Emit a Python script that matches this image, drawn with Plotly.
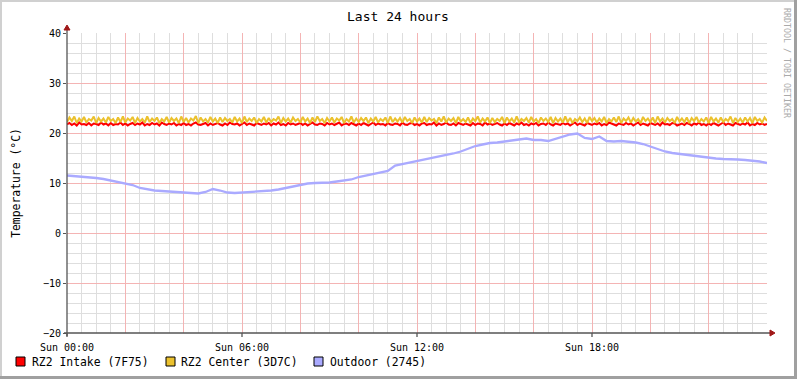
import plotly.graph_objects as go

# ---------------- data ----------------
series_names = ["RZ2 Intake (7F75)", "RZ2 Center (3D7C)", "Outdoor (2745)"]
series_colors = ["#FF0000", "#EBC12E", "#AAAAFF"]

# RZ2 sensors sampled every 5 minutes (hours 0..24)
rz2_step_h = 5 / 60
intake = [
    21.7, 22.0, 21.6, 21.9, 21.5, 22.1, 21.7, 21.8, 21.6, 22.0, 21.5, 21.9,
    21.8, 21.6, 22.1, 21.7, 21.9, 21.5, 22.0, 21.6, 21.8, 21.7, 22.1, 21.6,
    21.9, 21.5, 21.8, 22.0, 21.6, 21.9, 21.7, 22.1, 21.5, 21.8, 21.6, 22.0,
    21.7, 21.9, 21.5, 22.1, 21.8, 21.6, 21.9, 21.7, 22.0, 21.5, 21.8, 21.6,
    22.0, 21.6, 21.8, 21.5, 21.9, 22.1, 21.7, 21.6, 21.8, 22.0, 21.5, 21.9,
    21.6, 21.8, 22.0, 21.7, 21.5, 21.9, 21.6, 22.1, 21.8, 21.7, 21.9, 21.5,
    21.8, 22.1, 21.6, 21.9, 21.7, 21.5, 22.0, 21.8, 21.6, 21.9, 21.7, 22.0,
    21.5, 21.9, 21.7, 22.1, 21.6, 21.8, 21.5, 22.0, 21.7, 21.9, 21.6, 21.8,
    22.0, 21.6, 21.9, 21.5, 21.8, 22.1, 21.7, 21.6, 21.9, 21.8, 21.5, 22.0,
    21.7, 21.9, 21.6, 21.8, 22.1, 21.5, 21.8, 21.9, 21.6, 22.0, 21.7, 21.5,
    21.9, 21.6, 22.0, 21.7, 21.5, 21.8, 22.1, 21.6, 21.9, 21.7, 21.8, 21.5,
    22.0, 21.7, 21.6, 21.9, 21.8, 21.5, 22.1, 21.7, 21.6, 21.9, 22.0, 21.6,
    21.8, 21.5, 21.9, 22.0, 21.6, 21.8, 21.7, 22.1, 21.5, 21.9, 21.6, 21.8,
    22.1, 21.7, 21.6, 21.9, 21.5, 22.0, 21.8, 21.6, 21.9, 21.7, 21.5, 22.0,
    21.6, 21.9, 21.8, 21.5, 22.1, 21.7, 21.9, 21.6, 21.8, 22.0, 21.7, 21.5,
    21.9, 21.6, 22.0, 21.8, 21.5, 21.9, 21.7, 22.1, 21.6, 21.8, 21.5, 21.9,
    21.7, 22.0, 21.5, 21.8, 21.9, 21.6, 22.1, 21.7, 21.5, 21.9, 21.8, 21.6,
    22.0, 21.7, 21.9, 21.5, 21.8, 22.1, 21.6, 21.9, 21.7, 21.5, 22.0, 21.8,
    21.6, 21.9, 21.7, 22.0, 21.5, 21.8, 21.6, 22.1, 21.9, 21.7, 21.5, 21.9,
    21.8, 21.6, 22.0, 21.7, 21.9, 21.5, 21.8, 22.1, 21.6, 21.9, 21.7, 21.5,
    22.0, 21.8, 21.6, 21.9, 21.5, 22.1, 21.7, 21.8, 21.6, 22.0, 21.9, 21.5,
    21.7, 21.9, 21.6, 22.0, 21.8, 21.5, 21.9, 21.7, 22.1, 21.6, 21.8, 21.5,
    21.9, 21.6, 22.0, 21.7, 21.5, 21.8, 22.1, 21.6, 21.9, 21.7, 21.5, 22.0,
    21.8, 21.6, 21.9, 21.7, 22.1, 21.5, 21.8, 21.6, 22.0, 21.7, 21.9, 21.6,
    21.8,
]
center = [
    22.2, 23.1, 22.4, 23.3, 22.0, 22.9, 22.3, 23.2, 22.1, 22.8, 22.5, 23.3,
    22.0, 23.0, 22.3, 22.9, 22.1, 23.2, 22.4, 22.8, 22.0, 23.1, 22.2, 23.3,
    22.1, 22.9, 22.5, 23.2, 22.0, 23.0, 22.3, 22.8, 22.1, 23.3, 22.2, 22.9,
    22.4, 23.1, 22.0, 22.8, 22.3, 23.2, 22.1, 23.0, 22.4, 22.9, 22.0, 23.3,
    22.2, 23.0, 22.1, 22.9, 22.5, 23.4, 22.0, 23.1, 22.3, 22.8, 22.1, 23.2,
    22.3, 22.9, 22.0, 23.1, 22.2, 23.0, 22.4, 22.8, 22.1, 23.2, 22.3, 22.9,
    22.0, 23.3, 22.2, 22.9, 22.4, 23.1, 22.0, 22.8, 22.3, 23.2, 22.1, 23.0,
    22.2, 22.8, 22.5, 23.3, 22.0, 23.0, 22.3, 22.9, 22.1, 23.1, 22.4, 22.8,
    22.1, 23.2, 22.3, 22.9, 22.0, 23.1, 22.2, 23.3, 22.4, 22.8, 22.0, 23.0,
    22.3, 23.1, 22.1, 22.9, 22.5, 23.2, 22.0, 22.8, 22.3, 23.3, 22.1, 22.9,
    22.2, 23.0, 22.4, 23.1, 22.0, 22.9, 22.3, 23.2, 22.1, 22.8, 22.4, 23.1,
    22.0, 23.3, 22.2, 22.9, 22.3, 23.0, 22.1, 23.2, 22.4, 22.8, 22.0, 23.1,
    22.3, 22.9, 22.1, 23.2, 22.2, 23.0, 22.5, 22.8, 22.0, 23.1, 22.3, 23.3,
    22.1, 22.9, 22.4, 23.0, 22.0, 23.2, 22.3, 22.8, 22.2, 23.1, 22.0, 22.9,
    22.4, 23.3, 22.1, 22.9, 22.3, 23.1, 22.0, 23.0, 22.2, 22.8, 22.4, 23.2,
    22.0, 23.1, 22.3, 22.9, 22.1, 23.3, 22.2, 22.8, 22.4, 23.0, 22.1, 23.2,
    22.3, 22.8, 22.0, 23.1, 22.4, 22.9, 22.2, 23.2, 22.0, 23.0, 22.3, 22.9,
    22.1, 23.3, 22.2, 23.0, 22.0, 22.8, 22.4, 23.1, 22.2, 22.9, 22.0, 23.2,
    22.4, 23.0, 22.1, 22.9, 22.3, 23.2, 22.0, 22.8, 22.3, 23.1, 22.2, 23.3,
    22.0, 22.9, 22.4, 23.1, 22.1, 23.0, 22.3, 22.8, 22.0, 23.2, 22.4, 22.9,
    22.2, 23.1, 22.0, 23.3, 22.3, 22.9, 22.1, 23.0, 22.4, 22.8, 22.0, 23.2,
    22.3, 22.9, 22.2, 23.1, 22.0, 23.0, 22.4, 23.2, 22.1, 22.8, 22.3, 23.1,
    22.0, 23.2, 22.3, 22.9, 22.1, 23.1, 22.2, 22.8, 22.4, 23.3, 22.0, 23.0,
    22.2, 22.9, 22.1, 23.1, 22.3, 23.0, 22.0, 23.2, 22.4, 22.8, 22.1, 23.1,
    22.4,
]
# Outdoor sampled every 15 minutes
outdoor_step_h = 0.25
outdoor = [
    11.5, 11.4, 11.3, 11.1, 11.0, 10.8, 10.5, 10.2,
    10.0, 9.6, 9.0, 8.7, 8.5, 8.4, 8.3, 8.2,
    8.1, 8.0, 7.9, 8.2, 8.8, 8.5, 8.1, 8.0,
    8.1, 8.1, 8.2, 8.3, 8.5, 8.7, 9.0, 9.2,
    9.6, 9.9, 10.0, 10.0, 10.1, 10.3, 10.5, 10.7,
    11.2, 11.5, 11.7, 12.0, 12.4, 13.5, 13.8, 14.0,
    14.4, 14.7, 15.0, 15.2, 15.5, 15.9, 16.3, 16.8,
    17.4, 17.7, 18.0, 18.1, 18.3, 18.4, 18.7, 18.9,
    18.6, 18.6, 18.4, 18.8, 19.2, 19.7, 19.9, 19.0,
    18.8, 19.3, 18.4, 18.3, 18.4, 18.3, 18.1, 17.8,
    17.3, 16.8, 16.3, 16.0, 15.8, 15.6, 15.4, 15.2,
    15.0, 14.9, 14.8, 14.8, 14.7, 14.6, 14.5, 14.3,
    14.0,
]

x_tick_vals = [0, 2, 4, 6, 8, 10, 12, 14, 16, 18, 20, 22]
x_tick_text = ["Sun 00:00", "", "", "Sun 06:00", "", "", "Sun 12:00", "", "", "Sun 18:00", "", ""]
y_tick_vals = [-20, -10, 0, 10, 20, 30, 40]

title_text = "Last 24 hours"
y_title = "Temperature (°C)"
watermark = "RRDTOOL / TOBI OETIKER"

# ---------------- layout geometry ----------------
W, H = 797, 379
L, T, PW, PH = 67, 33, 700, 300
MONO = "DejaVu Sans Mono"


def px(x):
    return (x - L) / PW


def py(y):
    return (T + PH - y) / PH


fig = go.Figure()

series = [
    (intake, rz2_step_h, 2.0),
    (center, rz2_step_h, 2.0),
    (outdoor, outdoor_step_h, 2.3),
]
for (vals, step, lw), name, col in zip(series, series_names, series_colors):
    xs = [i * step for i in range(len(vals))]
    fig.add_trace(go.Scatter(
        x=xs, y=vals, mode="lines", name=name,
        line=dict(color=col, width=lw), showlegend=False,
        hoverinfo="skip",
    ))

grid_red = "#F4B4B4"
grid_grey = "#DEDEDE"
axis_col = "#555555"
arrow_col = "#A01818"

fig.update_layout(
    width=W, height=H,
    margin=dict(l=L, r=W - L - PW, t=T, b=H - T - PH),
    paper_bgcolor="white", plot_bgcolor="white",
    font=dict(family=MONO, color="#000000"),
    xaxis=dict(
        range=[0, 24], tickmode="array", tickvals=x_tick_vals, ticktext=x_tick_text,
        showgrid=True, gridcolor=grid_red, gridwidth=1,
        minor=dict(dtick=0.5, tick0=0, showgrid=True, gridcolor=grid_grey, gridwidth=1),
        showline=False, zeroline=False, ticks="outside", ticklen=5,
        tickcolor="rgba(0,0,0,0)",
        tickfont=dict(family=MONO, size=10, color="#000"),
        fixedrange=True, layer="below traces",
    ),
    yaxis=dict(
        range=[-20, 40], tickmode="array", tickvals=y_tick_vals,
        showgrid=True, gridcolor=grid_red, gridwidth=1,
        minor=dict(dtick=2, tick0=0, showgrid=True, gridcolor=grid_grey, gridwidth=1),
        showline=False, zeroline=False, ticks="outside", ticklen=3, tickcolor=axis_col,
        tickfont=dict(family=MONO, size=10, color="#000"),
        fixedrange=True,
        title=dict(text=y_title, font=dict(family=MONO, size=11.4, color="#000"), standoff=19),
    ),
)

shapes = []
# axis lines
shapes.append(dict(type="line", xref="paper", yref="paper",
                   x0=px(64), x1=px(771), y0=py(333), y1=py(333),
                   line=dict(color=axis_col, width=1.3)))
shapes.append(dict(type="line", xref="paper", yref="paper",
                   x0=px(67), x1=px(67), y0=py(336), y1=py(29),
                   line=dict(color=axis_col, width=1.3)))
# x tick marks at labelled positions
for hv in [0, 6, 12, 18]:
    xx = 67 + hv * PW / 24
    shapes.append(dict(type="line", xref="paper", yref="paper",
                       x0=px(xx), x1=px(xx), y0=py(333), y1=py(337),
                       line=dict(color=axis_col, width=1.3)))
# arrows
shapes.append(dict(type="path", xref="paper", yref="paper",
                   path=f"M {px(770)} {py(330)} L {px(775)} {py(333)} L {px(770)} {py(336)} Z",
                   fillcolor=arrow_col, line=dict(color=arrow_col, width=1)))
shapes.append(dict(type="path", xref="paper", yref="paper",
                   path=f"M {px(64)} {py(30)} L {px(67)} {py(25)} L {px(70)} {py(30)} Z",
                   fillcolor=arrow_col, line=dict(color=arrow_col, width=1)))
# outer frame
shapes.append(dict(type="rect", xref="paper", yref="paper",
                   x0=px(0), x1=px(797), y0=py(0), y1=py(2),
                   fillcolor="#D0D0D0", line=dict(width=0), layer="above"))
shapes.append(dict(type="rect", xref="paper", yref="paper",
                   x0=px(0), x1=px(2), y0=py(0), y1=py(379),
                   fillcolor="#D0D0D0", line=dict(width=0), layer="above"))
shapes.append(dict(type="rect", xref="paper", yref="paper",
                   x0=px(794), x1=px(797), y0=py(0), y1=py(379),
                   fillcolor="#A0A0A0", line=dict(width=0), layer="above"))
shapes.append(dict(type="rect", xref="paper", yref="paper",
                   x0=px(0), x1=px(797), y0=py(376), y1=py(379),
                   fillcolor="#A0A0A0", line=dict(width=0), layer="above"))

# legend swatches and labels
legend_box_x = [16, 166, 314]
legend_text_x = [30, 179, 328]
annotations = []
for bx, tx, name, col in zip(legend_box_x, legend_text_x, series_names, series_colors):
    shapes.append(dict(type="rect", xref="paper", yref="paper",
                       x0=px(bx), x1=px(bx + 9), y0=py(357), y1=py(366),
                       fillcolor=col, line=dict(color="#000", width=1)))
    annotations.append(dict(xref="paper", yref="paper", x=px(tx), y=py(361.5),
                            xanchor="left", yanchor="middle", showarrow=False,
                            text=name, font=dict(family=MONO, size=11.4, color="#000")))

annotations.append(dict(xref="paper", yref="paper", x=px(397.5), y=py(16),
                        xanchor="center", yanchor="middle", showarrow=False,
                        text=title_text, font=dict(family=MONO, size=13, color="#000")))
annotations.append(dict(xref="paper", yref="paper", x=px(787), y=py(63),
                        xanchor="center", yanchor="middle", showarrow=False, textangle=90,
                        text=watermark, font=dict(family=MONO, size=8.3, color="#AAAAAA")))

fig.update_layout(shapes=shapes, annotations=annotations)

fig.write_html(
    "out.html",
    config={"displayModeBar": False, "staticPlot": True},
    post_script="document.body.style.margin='0px';document.body.style.padding='0px';",
)
